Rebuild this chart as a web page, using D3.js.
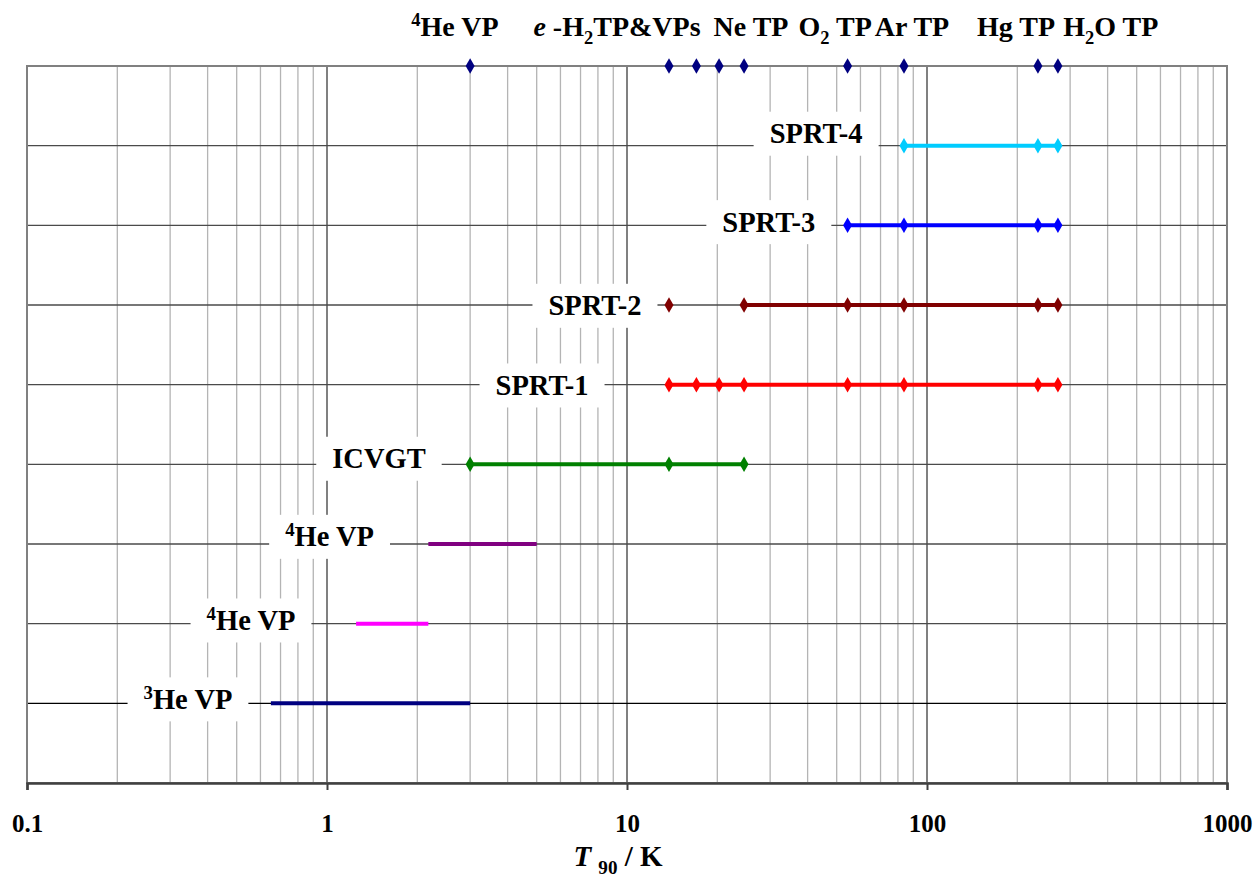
<!DOCTYPE html>
<html><head><meta charset="utf-8">
<script src="https://cdn.jsdelivr.net/npm/d3@7"></script>
<style>
body{margin:0;background:#fff}
svg{display:block}
</style>
</head><body><svg id="c" width="1258" height="880"></svg>
<script>
// ---- data ----
const fixedPointT = [3.0, 13.8033, 17.035, 20.27, 24.5561, 54.3584, 83.8058, 234.3156, 273.16];
const fixedPointNames = ["^{4}He VP", "*{e} -H_{2}TP&VPs", "Ne TP", "O_{2} TP", "Ar TP", "Hg TP", "H_{2}O TP"];
const fixedPointLabelT = [2.67, 9.26, 25.9, 49.4, 89.1, 198, 410];

const instrumentNames = ["^{3}He VP", "^{4}He VP", "^{4}He VP", "ICVGT", "SPRT-1", "SPRT-2", "SPRT-3", "SPRT-4"];
const instrumentRow = [1, 2, 3, 4, 5, 6, 7, 8];
const rangeStart = [0.65, 1.25, 2.1768, 3.0, 13.8033, 24.5561, 54.3584, 83.8058];
const rangeEnd = [3.0, 2.1768, 5.0, 24.5561, 273.16, 273.16, 273.16, 273.16];
const calPoints = [
  [], [], [],
  [3.0, 13.8033, 24.5561],
  [13.8033, 17.035, 20.27, 24.5561, 54.3584, 83.8058, 234.3156, 273.16],
  [13.8033, 24.5561, 54.3584, 83.8058, 234.3156, 273.16],
  [54.3584, 83.8058, 234.3156, 273.16],
  [83.8058, 234.3156, 273.16]
];
const instrumentColors = ["#000080", "#FF00FF", "#800080", "#008000", "#FF0000", "#800000", "#0000FF", "#00CCFF"];
const labelT = [0.344, 0.558, 1.02, 1.49, 5.21, 7.82, 29.7, 42.7];
const labelRow = [1.05, 2.04, 3.09, 4.07, 4.99, 5.99, 7.04, 8.15];

const xTickValues = [0.1, 1, 10, 100, 1000];
const xTickLabels = ["0.1", "1", "10", "100", "1000"];
const axisTitle = "*{T} _{90} / K";

// ---- layout ----
const FONT = "'Liberation Serif', 'DejaVu Serif', 'Times New Roman', serif";
const svg = d3.select("#c");
const x = d3.scaleLog().domain([0.1, 1000]).range([27, 1227]);
const y = d3.scaleLinear().domain([0, 9]).range([783, 66]);

function txt(parent, size) {
  return parent.append("text").attr("font-family", FONT).attr("font-weight", "bold")
    .attr("font-size", size).attr("fill", "#000").attr("text-anchor", "middle");
}
function rich(sel, str, base) {
  const re = /(\^|_|\*)\{([^}]*)\}|([^\^_*]+)/g;
  let m, off = 0;
  while ((m = re.exec(str)) !== null) {
    const t = sel.append("tspan");
    let target = 0, fs = null, it = false, s;
    if (m[3] !== undefined) { s = m[3]; }
    else {
      s = m[2];
      if (m[1] === "^") { target = -base * 0.36; fs = base * 0.66; }
      else if (m[1] === "_") { target = base * 0.28; fs = base * 0.66; }
      else it = true;
    }
    if (target - off !== 0) t.attr("dy", target - off);
    off = target;
    if (fs) t.attr("font-size", fs);
    if (it) t.attr("font-style", "italic");
    t.text(s);
  }
}

// minor vertical grid
const minor = [];
for (let d = -1; d < 3; d++) for (let k = 2; k <= 9; k++) minor.push(k * Math.pow(10, d));
svg.append("g").selectAll("line").data(minor).join("line")
  .attr("x1", d => x(d)).attr("x2", d => x(d)).attr("y1", y(9)).attr("y2", y(0))
  .attr("stroke", "#b4b4b4").attr("stroke-width", 1.3);
svg.append("g").selectAll("line").data(xTickValues).join("line")
  .attr("x1", d => x(d)).attr("x2", d => x(d)).attr("y1", y(9)).attr("y2", y(0))
  .attr("stroke", "#808080").attr("stroke-width", 2);

// horizontal rows
svg.append("g").selectAll("line").data(d3.range(1, 9)).join("line")
  .attr("x1", x(0.1)).attr("x2", x(1000)).attr("y1", d => y(d)).attr("y2", d => y(d))
  .attr("stroke", d => d === 1 ? "#000" : "#4a4a4a").attr("stroke-width", 1.3);

// border
svg.append("rect").attr("x", x(0.1)).attr("y", y(9)).attr("width", x(1000) - x(0.1)).attr("height", y(0) - y(9))
  .attr("fill", "none").attr("stroke", "#808080").attr("stroke-width", 2);

// instrument labels with white boxes
const lab = svg.append("g");
instrumentNames.forEach((n, i) => {
  const g = lab.append("g");
  const t = txt(g, 28.5).attr("x", x(labelT[i])).attr("y", y(labelRow[i]) + 9.5);
  rich(t, n, 28.5);
  const bb = t.node().getBBox();
  g.insert("rect", "text").attr("x", bb.x - 16).attr("y", y(labelRow[i]) - 22)
    .attr("width", bb.width + 32).attr("height", 44).attr("fill", "#fff");
});

// range lines
const diamond = d3.symbol().type(d3.symbolDiamond).size(70);
instrumentNames.forEach((n, i) => {
  svg.append("line").attr("x1", x(rangeStart[i])).attr("x2", x(rangeEnd[i]))
    .attr("y1", y(instrumentRow[i])).attr("y2", y(instrumentRow[i]))
    .attr("stroke", instrumentColors[i]).attr("stroke-width", 4);
  svg.append("g").selectAll("path").data(calPoints[i]).join("path")
    .attr("d", diamond).attr("transform", d => `translate(${x(d)},${y(instrumentRow[i])})`)
    .attr("fill", instrumentColors[i]);
});

// fixed points on top
svg.append("g").selectAll("path").data(fixedPointT).join("path")
  .attr("d", diamond).attr("transform", d => `translate(${x(d)},${y(9)})`).attr("fill", "#000080");
fixedPointNames.forEach((n, i) => {
  const t = txt(svg, 28).attr("x", x(fixedPointLabelT[i])).attr("y", 36);
  rich(t, n, 28);
});

// x axis
const ax = svg.append("g").attr("transform", `translate(0,${y(0)})`)
  .call(d3.axisBottom(x).tickValues(xTickValues).tickFormat((d, i) => xTickLabels[i]).tickSize(7).tickPadding(24));
ax.attr("font-family", FONT);
ax.select(".domain").attr("stroke", "#404040").attr("stroke-width", 2.5);
ax.selectAll(".tick line").attr("stroke", "#404040").attr("stroke-width", 2);
ax.selectAll(".tick text").attr("font-size", 25).attr("font-family", FONT).attr("font-weight", "bold").attr("fill", "#000");

const at = txt(svg, 29).attr("x", 618).attr("y", 866);
rich(at, axisTitle, 29);
</script>
</body></html>
